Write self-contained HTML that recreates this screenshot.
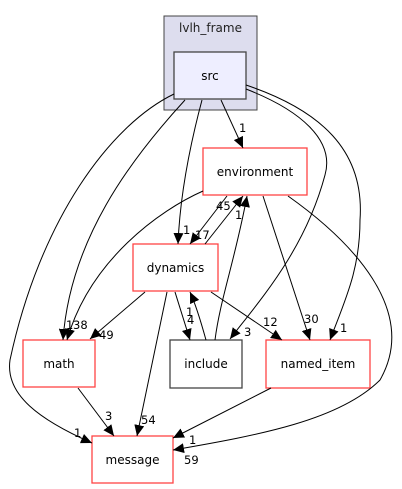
<!DOCTYPE html>
<html><head><meta charset="utf-8"><style>
html,body{margin:0;padding:0;background:#fff;}
svg{display:block;font-family:"DejaVu Sans","Liberation Sans",sans-serif;}
</style></head><body>
<svg width="402" height="489" viewBox="0 0 402 489" xmlns="http://www.w3.org/2000/svg">
<defs>
<marker id="a" markerWidth="11" markerHeight="10" refX="11" refY="5" orient="auto" markerUnits="userSpaceOnUse">
<path d="M0,0 L11,5 L0,10 Z" fill="#000"/>
</marker>
</defs>
<rect x="164" y="16" width="93" height="94" fill="#ddddee" stroke="#444" stroke-width="1"/>
<text x="210.5" y="32" font-size="12" text-anchor="middle" fill="#222">lvlh_frame</text>
<rect x="174" y="52" width="72" height="47" fill="#eeeeff" stroke="#444" stroke-width="1.3"/>
<text x="210" y="80" font-size="12" text-anchor="middle">src</text>

<rect x="203" y="148" width="104" height="47" fill="#fff" stroke="#ff4444" stroke-width="1.3"/>
<text x="255" y="176" font-size="12" text-anchor="middle">environment</text>
<rect x="133" y="244" width="85" height="47" fill="#fff" stroke="#ff4444" stroke-width="1.3"/>
<text x="175.5" y="272" font-size="12" text-anchor="middle">dynamics</text>
<rect x="23" y="340" width="72" height="47" fill="#fff" stroke="#ff4444" stroke-width="1.3"/>
<text x="59" y="368" font-size="12" text-anchor="middle">math</text>
<rect x="170" y="340" width="72" height="48" fill="#fff" stroke="#444" stroke-width="1.3"/>
<text x="206" y="368" font-size="12" text-anchor="middle">include</text>
<rect x="266" y="340" width="104" height="48" fill="#fff" stroke="#ff4444" stroke-width="1.3"/>
<text x="318" y="368" font-size="12" text-anchor="middle">named_item</text>
<rect x="92" y="436" width="81" height="47" fill="#fff" stroke="#ff4444" stroke-width="1.3"/>
<text x="132.5" y="464" font-size="12" text-anchor="middle">message</text>

<g fill="none" stroke="#000" stroke-width="1" marker-end="url(#a)">
<path d="M221,100 L243,148"/>
<path d="M202,100 C190,145 180,195 178,244"/>
<path d="M185,100 C130,160 70,240 63,340"/>
<path d="M174,94 C110,125 40,220 10,360 C5,395 40,420 92,443"/>
<path d="M246,89 C300,110 335,140 325,175 C305,250 260,300 230,339"/>
<path d="M246,85 C320,110 365,150 360,220 C360,270 345,300 330,340"/>
<path d="M227,196 L190,244"/>
<path d="M205,244 L243,196"/>
<path d="M215,340 C220,300 235,260 247,196"/>
<path d="M203,191 C160,210 90,260 67,340"/>
<path d="M263,196 L310,340"/>
<path d="M288,196 C350,240 420,310 380,380 C340,420 260,435 173,450"/>
<path d="M145,292 L90,339"/>
<path d="M175,292 L190,340"/>
<path d="M206,340 C201,322 196,305 190,292"/>
<path d="M211,292 L282,340"/>
<path d="M167,292 L137,436"/>
<path d="M78,388 L114,436"/>
<path d="M271,388 L173,438"/>
</g>
<g font-size="11.5" fill="#000">
<text x="239" y="132">1</text>
<text x="183" y="234">1</text>
<text x="195" y="239">17</text>
<text x="216" y="210">45</text>
<text x="235" y="219">1</text>
<text x="66" y="329">1</text>
<text x="73" y="329">38</text>
<text x="99" y="339">49</text>
<text x="186" y="316">1</text>
<text x="187" y="324">4</text>
<text x="244" y="336">3</text>
<text x="263" y="326">12</text>
<text x="304" y="323">30</text>
<text x="340" y="332">1</text>
<text x="105" y="420">3</text>
<text x="141" y="424">54</text>
<text x="74" y="437">1</text>
<text x="189" y="444">1</text>
<text x="184" y="464">59</text>
</g>
</svg>
</body></html>
